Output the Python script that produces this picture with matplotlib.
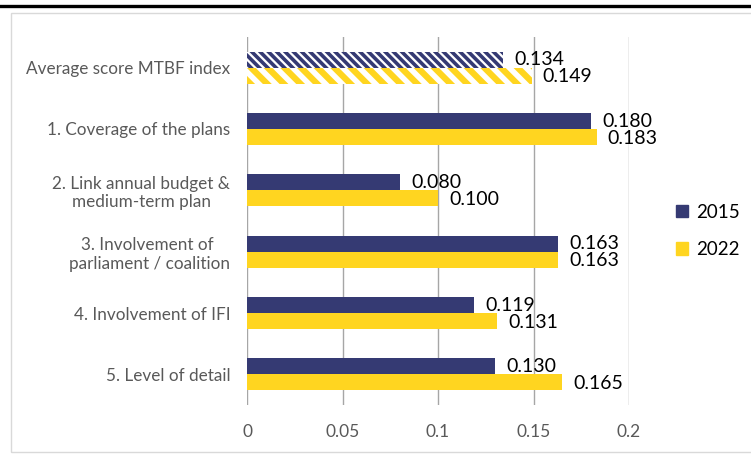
import matplotlib
matplotlib.use("Agg")
import matplotlib.pyplot as plt
from matplotlib.lines import Line2D
from matplotlib.patches import Rectangle
import numpy as np

categories = [
    "Average score MTBF index",
    "1. Coverage of the plans",
    "2. Link annual budget &\nmedium-term plan",
    "3. Involvement of \nparliament / coalition",
    "4. Involvement of IFI",
    "5. Level of detail",
]
values_2015 = [0.134, 0.180, 0.080, 0.163, 0.119, 0.130]
values_2022 = [0.149, 0.183, 0.100, 0.163, 0.131, 0.165]
x_ticks = [0, 0.05, 0.1, 0.15, 0.2]
x_tick_labels = ["0", "0.05", "0.1", "0.15", "0.2"]

NAVY = "#353a73"
YELLOW = "#ffd520"
GREY_TEXT = "#595959"

plt.rcParams["font.family"] = ["Lato", "DejaVu Sans"]

fig = plt.figure(figsize=(7.51, 4.57), dpi=100)
ax = fig.add_axes([247 / 751, 52 / 457, 382 / 751, 368 / 457])

# frame around the chart and heavy rule along the top
fig.patches.append(Rectangle((11 / 751, 5 / 457), 1.0, 439 / 457,
                             transform=fig.transFigure, fill=False,
                             edgecolor="#d9d9d9", linewidth=1))
fig.lines.append(Line2D([0, 1], [451 / 457, 451 / 457],
                        transform=fig.transFigure, color="black",
                        linewidth=2.4))

y = np.arange(len(categories))
h = 0.26

for i, (v15, v22) in enumerate(zip(values_2015, values_2022)):
    if i == 0:
        # index average is shown with striped bars
        plt.rcParams["hatch.linewidth"] = 2.6
        ax.barh(y[i] - h / 2, v15, height=h, facecolor="white",
                edgecolor=NAVY, hatch="\\\\\\\\", linewidth=0)
        plt.rcParams["hatch.linewidth"] = 4.5
        ax.barh(y[i] + h / 2, v22, height=h, facecolor="white",
                edgecolor=YELLOW, hatch="\\\\", linewidth=0)
    else:
        ax.barh(y[i] - h / 2, v15, height=h, color=NAVY)
        ax.barh(y[i] + h / 2, v22, height=h, color=YELLOW)
    ax.text(v15 + 0.0058, y[i] - h / 2, f"{v15:.3f}", va="center",
            ha="left", fontsize=14, color="black", clip_on=False)
    ax.text(v22 + 0.0058, y[i] + h / 2 + 0.02, f"{v22:.3f}", va="center",
            ha="left", fontsize=14, color="black", clip_on=False)

ax.set_xlim(0, 0.2)
ax.set_ylim(len(categories) - 0.5, -0.5)
ax.set_xticks(x_ticks)
ax.set_xticklabels(x_tick_labels, color=GREY_TEXT, fontsize=12.5)
ax.set_yticks(y)
ax.set_yticklabels(categories, color=GREY_TEXT, fontsize=12.3,
                   multialignment="center")
ax.tick_params(axis="x", length=0, pad=14)
ax.tick_params(axis="y", length=0, pad=12)
ax.grid(axis="x", color="#a6a6a6", linewidth=1)
ax.set_axisbelow(True)
for s in ax.spines.values():
    s.set_visible(False)

handles = [Rectangle((0, 0), 1, 1, color=NAVY),
           Rectangle((0, 0), 1, 1, color=YELLOW)]
fig.legend(handles, ["2015", "2022"], loc="center left",
           bbox_to_anchor=(659 / 751, 226 / 457), frameon=False,
           fontsize=13.5, handlelength=0.65, handleheight=0.65,
           handletextpad=0.45, labelspacing=1.1)

fig.savefig("out.png", dpi=100)
